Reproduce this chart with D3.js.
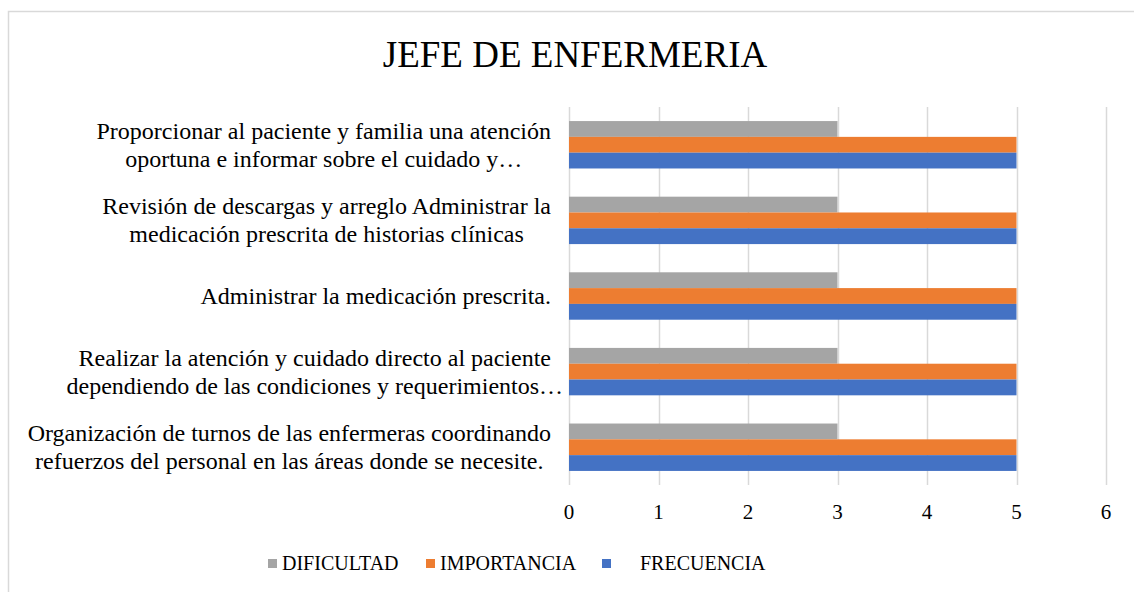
<!DOCTYPE html>
<html>
<head>
<meta charset="utf-8">
<script src="https://cdn.jsdelivr.net/npm/d3@7"></script>
<style>
  body { margin: 0; background: #fff; }
  text { font-family: "Liberation Serif", "Times New Roman", serif; fill: #000; }
</style>
</head>
<body>
<svg id="chart" width="1134" height="592"></svg>
<script>
// chart data
var chartTitle = "JEFE DE ENFERMERIA";
var categories = [
  ["Proporcionar al paciente y familia una atención", "oportuna e informar sobre el cuidado y…"],
  ["Revisión de descargas y arreglo Administrar la", "medicación prescrita de historias clínicas"],
  ["Administrar la medicación prescrita."],
  ["Realizar la atención y cuidado directo al paciente", "dependiendo de las condiciones y requerimientos…"],
  ["Organización de turnos de las enfermeras coordinando", "refuerzos del personal en las áreas donde se necesite."]
];
var seriesNames = ["DIFICULTAD", "IMPORTANCIA", "FRECUENCIA"];
var seriesColors = ["#A5A5A5", "#ED7D31", "#4472C4"];
var dificultad = [3, 3, 3, 3, 3];
var importancia = [5, 5, 5, 5, 5];
var frecuencia = [5, 5, 5, 5, 5];
var xTicks = [0, 1, 2, 3, 4, 5, 6];

var seriesValues = [dificultad, importancia, frecuencia];

var svg = d3.select("#chart");

// outer frame
svg.append("rect")
  .attr("x", 8.5).attr("y", 11.5)
  .attr("width", 1140).attr("height", 600)
  .style("fill", "none")
  .style("stroke", "#D9D9D9")
  .style("stroke-width", "1.5px");

// title
svg.append("text")
  .attr("x", 575).attr("y", 67)
  .attr("text-anchor", "middle")
  .style("font-size", "37px")
  .text(chartTitle);

// plot area
var plotLeft = 569, plotRight = 1106, plotTop = 107, plotBottom = 485;

var x = d3.scaleLinear().domain([0, 6]).range([plotLeft, plotRight]);
var y = d3.scaleBand().domain(d3.range(categories.length)).range([plotTop, plotBottom]).paddingInner(0.373).paddingOuter(0.186);
var ySub = d3.scaleBand().domain(d3.range(seriesNames.length)).range([0, y.bandwidth()]);

// gridlines
svg.append("g")
  .selectAll("line")
  .data(xTicks)
  .join("line")
  .attr("x1", function(d) { return Math.round(x(d)) + 0.5; })
  .attr("x2", function(d) { return Math.round(x(d)) + 0.5; })
  .attr("y1", plotTop)
  .attr("y2", plotBottom)
  .style("stroke", "#D9D9D9")
  .style("stroke-width", "1.5px");

// bars
var groups = svg.append("g")
  .selectAll("g")
  .data(categories)
  .join("g")
  .attr("transform", function(d, i) { return "translate(0," + y(i) + ")"; });

groups.selectAll("rect")
  .data(function(d, i) {
    return seriesValues.map(function(vals, s) { return { s: s, v: vals[i] }; });
  })
  .join("rect")
  .attr("x", x(0))
  .attr("y", function(d) { return ySub(d.s); })
  .attr("width", function(d) { return x(d.v) - x(0); })
  .attr("height", ySub.bandwidth())
  .style("fill", function(d) { return seriesColors[d.s]; });

// x axis tick labels
svg.append("g")
  .selectAll("text")
  .data(xTicks)
  .join("text")
  .attr("x", function(d) { return x(d); })
  .attr("y", 519)
  .attr("text-anchor", "middle")
  .style("font-size", "21px")
  .text(function(d) { return d; });

// category labels: lines centred in a block that is right-aligned to the axis,
// truncated lines (ending in …) are allowed to overflow
var labelRight = 551, lineHeight = 28;
var labels = svg.append("g");
categories.forEach(function(lines, i) {
  var cy = y(i) + y.bandwidth() / 2;
  var t = labels.append("text").style("font-size", "24px").attr("text-anchor", "middle");
  var spans = lines.map(function(line, k) {
    return t.append("tspan")
      .attr("y", cy + (k - (lines.length - 1) / 2) * lineHeight + 8)
      .text(line);
  });
  var full = spans.filter(function(s, k) { return lines[k].slice(-1) !== "…"; });
  if (!full.length) full = spans;
  var maxW = d3.max(full, function(s) { return s.node().getComputedTextLength(); });
  spans.forEach(function(s) { s.attr("x", labelRight - maxW / 2); });
});

// legend
var legendItems = [
  { sx: 268, tx: 282 },
  { sx: 426, tx: 440 },
  { sx: 602, tx: 640 }
];
var legend = svg.append("g");
seriesNames.forEach(function(name, s) {
  legend.append("rect")
    .attr("x", legendItems[s].sx).attr("y", 559)
    .attr("width", 9).attr("height", 9)
    .style("fill", seriesColors[s]);
  legend.append("text")
    .attr("x", legendItems[s].tx).attr("y", 570)
    .style("font-size", "20px")
    .text(name);
});
</script>
</body>
</html>
